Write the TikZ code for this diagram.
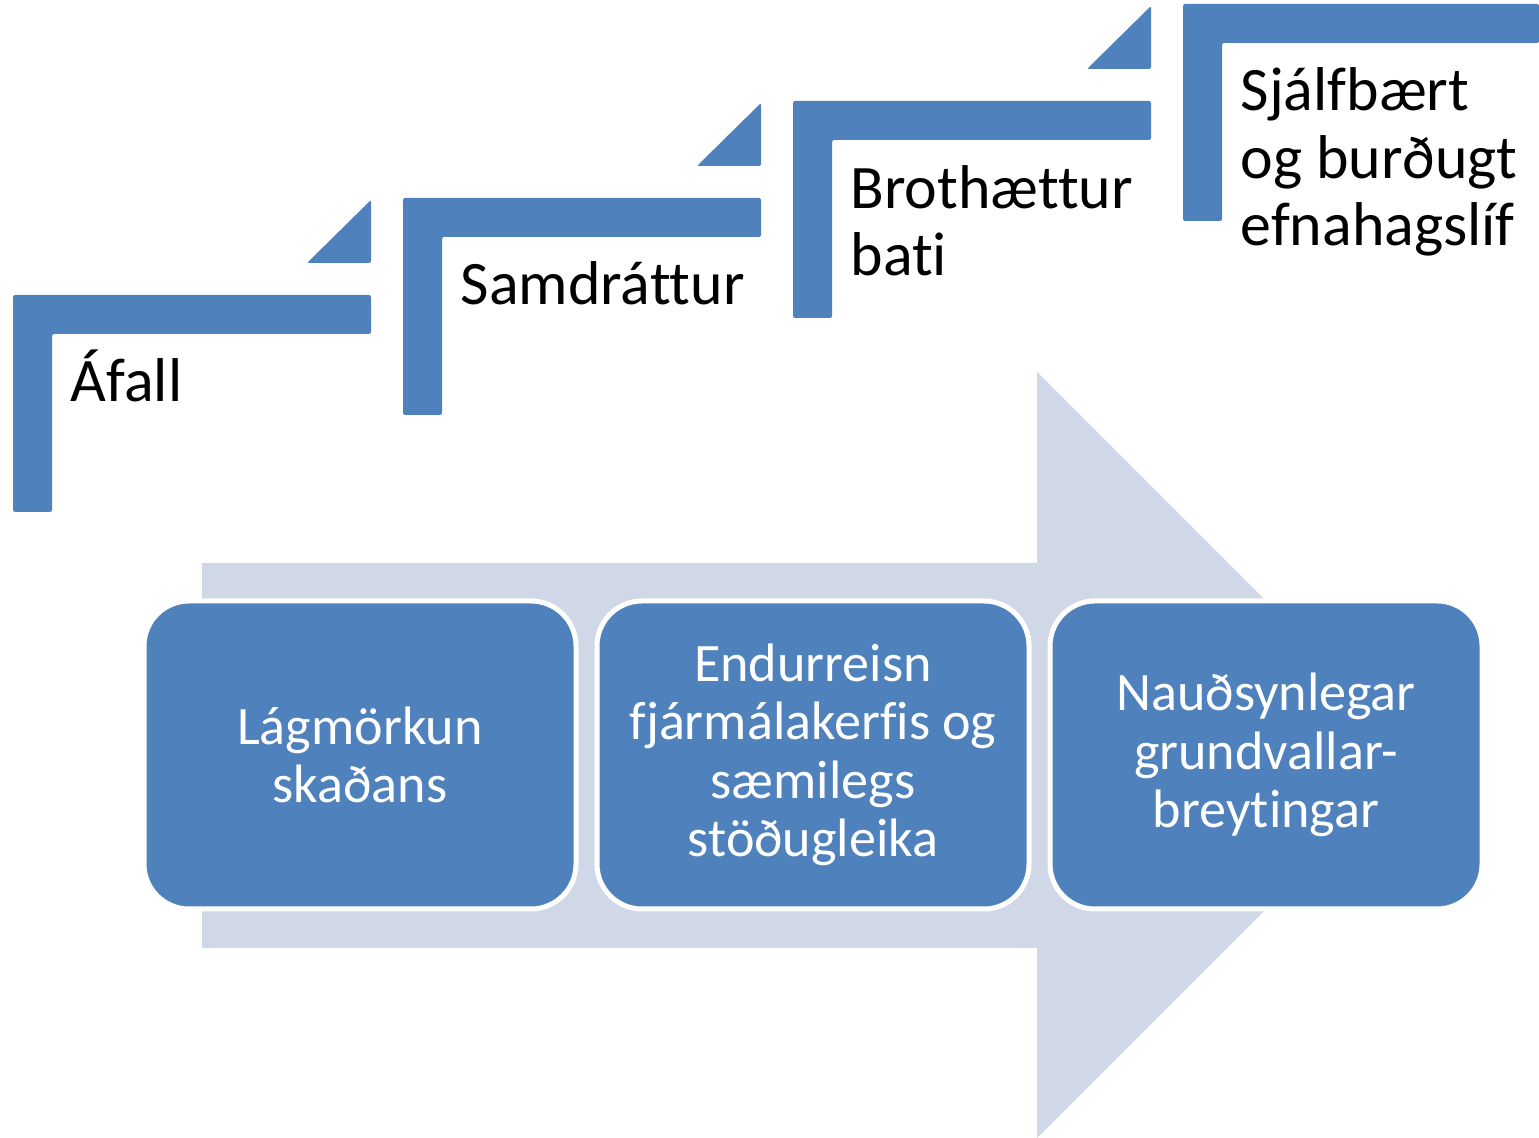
\documentclass[tikz,border=0pt]{standalone}
\usepackage{fontspec}
\setmainfont{Carlito}[Ligatures=CommonOff]
\usetikzlibrary{positioning}
\definecolor{blar}{HTML}{4F81BD}
\definecolor{ljos}{HTML}{D0D8E8}
\tikzset{
    trappa/.style={
           fill=blar,
           rounded corners=0.6pt},
    merki/.style={
           anchor=base west,
           align=left,
           inner sep=0pt,
           font=\fontsize{17.6}{19.3}\selectfont},
    kassi/.style={
           rectangle,
           rounded corners=0.45cm,
           draw=white, line width=0.05cm,
           fill=blar,
           text=white,
           minimum width=4.32cm,
           minimum height=3.08cm,
           align=center,
           font=\fontsize{15.4}{16.6}\selectfont}
}

\begin{document}
\begin{tikzpicture}[node distance=0.16cm]
        \useasboundingbox (0,0) rectangle (15.39,11.38);
        % big arrow behind the boxes
        \fill[ljos] (2.02,5.75) -- (10.37,5.75) -- (10.37,7.66) -- (14.20,3.83)
                -- (10.37,0) -- (10.37,1.90) -- (2.02,1.90) -- cycle;
        % steps
        \fill[trappa] (0.13,6.26) -- (0.13,8.43) -- (3.71,8.43) -- (3.71,8.04) -- (0.52,8.04) -- (0.52,6.26) -- cycle;
        \fill[trappa] (4.03,7.23) -- (4.03,9.40) -- (7.61,9.40) -- (7.61,9.01) -- (4.42,9.01) -- (4.42,7.23) -- cycle;
        \fill[trappa] (7.93,8.20) -- (7.93,10.37) -- (11.51,10.37) -- (11.51,9.98) -- (8.32,9.98) -- (8.32,8.20) -- cycle;
        \fill[trappa] (11.83,9.17) -- (11.83,11.34) -- (15.39,11.34) -- (15.39,10.95) -- (12.22,10.95) -- (12.22,9.17) -- cycle;
        \fill[trappa] (3.07,8.75) -- (3.71,9.38) -- (3.71,8.75) -- cycle;
        \fill[trappa] (6.97,9.72) -- (7.61,10.35) -- (7.61,9.72) -- cycle;
        \fill[trappa] (10.87,10.69) -- (11.51,11.32) -- (11.51,10.69) -- cycle;
        % labels (base = last line)
        \node[merki] (afall) at (0.70,7.36) {Áfall};
        \node[merki] (samdr) at (4.60,8.33) {Samdráttur};
        \node[merki] (broth) at (8.50,8.62) {Brothættur\\bati};
        \node[merki] (sjalf) at (12.40,8.92) {Sjálfbært\\og burðugt\\efnahagslíf};
        % boxes
        \node[kassi] (lag) at (3.60,3.83) {Lágmörkun\\skaðans};
        \node[kassi, right=of lag] (endur) {Endurreisn\\fjármálakerfis og\\sæmilegs\\stöðugleika};
        \node[kassi, right=of endur] (naud) {Nauðsynlegar\\grundvallar-\\breytingar};
\end{tikzpicture}
\end{document}
